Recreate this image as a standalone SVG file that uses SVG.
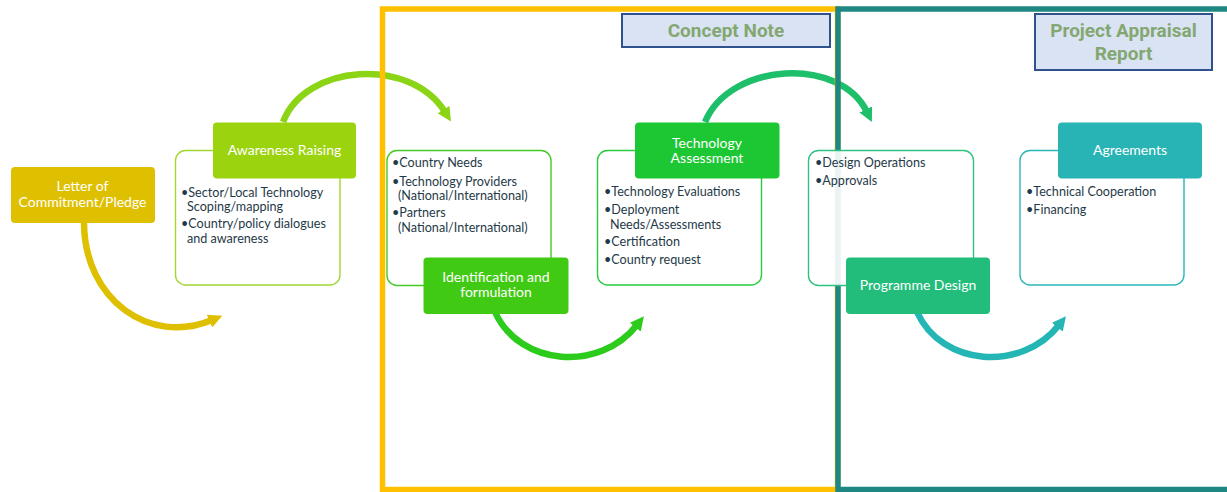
<svg xmlns="http://www.w3.org/2000/svg" width="1227" height="492" viewBox="0 0 1227 492">
<defs>
<style>
.hd{font-family:Lato,"Liberation Sans",sans-serif;font-size:14px;fill:#ffffff;text-anchor:middle}
.bl{font-family:Lato,"Liberation Sans",sans-serif;font-size:12.6px;fill:#1F3A48}
.lbl{font-family:Roboto,"Liberation Sans",sans-serif;font-weight:bold;font-size:19px;fill:#84A771;text-anchor:middle}
.lblbox{fill:#DAE3F3;stroke:#2F528F;stroke-width:2}
.outer{fill:#ffffff;fill-opacity:0.9;stroke-width:1.4}
.arr{fill:none;stroke-width:6.5}
.frame{fill:none;stroke-width:5.5}
</style>
<marker id="mY" viewBox="0 0 10 10" refX="2" refY="5" markerUnits="userSpaceOnUse" markerWidth="14" markerHeight="14" orient="auto"><path d="M0,0 L10,5 L0,10 z" fill="#DEC000"/></marker>
<marker id="mL" viewBox="0 0 10 10" refX="2" refY="5" markerUnits="userSpaceOnUse" markerWidth="14" markerHeight="14" orient="auto"><path d="M0,0 L10,5 L0,10 z" fill="#8CD416"/></marker>
<marker id="mG" viewBox="0 0 10 10" refX="2" refY="5" markerUnits="userSpaceOnUse" markerWidth="14" markerHeight="14" orient="auto"><path d="M0,0 L10,5 L0,10 z" fill="#2DCB1B"/></marker>
<marker id="mE" viewBox="0 0 10 10" refX="2" refY="5" markerUnits="userSpaceOnUse" markerWidth="14" markerHeight="14" orient="auto"><path d="M0,0 L10,5 L0,10 z" fill="#1DBF6A"/></marker>
<marker id="mT" viewBox="0 0 10 10" refX="2" refY="5" markerUnits="userSpaceOnUse" markerWidth="14" markerHeight="14" orient="auto"><path d="M0,0 L10,5 L0,10 z" fill="#24B6B4"/></marker>
</defs>
<rect width="1227" height="492" fill="#ffffff"/>

<g id="connectors">
<path class="arr" stroke="#DEC000" marker-end="url(#mY)" d="M84,222 C84,300 150,346 212,320"/>
<path class="arr" stroke="#8CD416" marker-end="url(#mL)" d="M283,122 C305,64 410,56 445,112"/>
<path class="arr" stroke="#2DCB1B" marker-end="url(#mG)" d="M495,312 C520,367 600,372 637,325"/>
<path class="arr" stroke="#1DBF6A" marker-end="url(#mE)" d="M705,122 C730,62 840,56 867,112"/>
<path class="arr" stroke="#24B6B4" marker-end="url(#mT)" d="M917,312 C942,367 1022,372 1059,325"/>
</g>

<g id="frames">
<rect class="frame" stroke="#FFC000" x="382.5" y="9" width="455" height="480.5"/>
<rect class="frame" stroke="#1E8782" x="838" y="9" width="400" height="480.5"/>
</g>

<g id="concept-note">
<rect class="lblbox" x="622" y="14" width="208" height="33"/>
<text class="lbl" x="726" y="37">Concept Note</text>
</g>
<g id="project-appraisal-report">
<rect class="lblbox" x="1035" y="14" width="177" height="56"/>
<text class="lbl" x="1123.5" y="37">Project Appraisal</text>
<text class="lbl" x="1123.5" y="60">Report</text>
</g>

<g id="letter">
<rect x="11" y="167" width="144" height="56" rx="4" fill="#DEC000"/>
<text class="hd" x="82.5" y="190.5">Letter of</text>
<text class="hd" x="82.5" y="206.5">Commitment/Pledge</text>
</g>

<g id="awareness">
<rect class="outer" stroke="#A2D634" x="175.5" y="150.5" width="164.5" height="134.5" rx="10"/>
<rect x="213" y="122.5" width="143" height="56" rx="4" fill="#9CD30F"/>
<text class="hd" x="284.5" y="154.5">Awareness Raising</text>
<text class="bl" x="181" y="196.5">•Sector/Local Technology</text>
<text class="bl" x="187" y="211">Scoping/mapping</text>
<text class="bl" x="181" y="228">•Country/policy dialogues</text>
<text class="bl" x="187" y="243">and awareness</text>
</g>

<g id="identification">
<rect class="outer" stroke="#45C925" x="387" y="150.5" width="164" height="135" rx="10"/>
<rect x="423.5" y="257.5" width="145" height="56.5" rx="4" fill="#41CA13"/>
<text class="hd" x="496" y="281.5">Identification and</text>
<text class="hd" x="496" y="297">formulation</text>
<text class="bl" x="392" y="166.5">•Country Needs</text>
<text class="bl" x="392" y="185.5">•Technology Providers</text>
<text class="bl" x="398" y="200">(National/International)</text>
<text class="bl" x="392" y="216.5">•Partners</text>
<text class="bl" x="398" y="232">(National/International)</text>
</g>

<g id="technology-assessment">
<rect class="outer" stroke="#2ACB3E" x="597.5" y="150.5" width="164" height="134.5" rx="10"/>
<rect x="635" y="122.5" width="144.5" height="56" rx="4" fill="#1DC733"/>
<text class="hd" x="707" y="148">Technology</text>
<text class="hd" x="707" y="163">Assessment</text>
<text class="bl" x="604" y="195.5">•Technology Evaluations</text>
<text class="bl" x="604" y="214">•Deployment</text>
<text class="bl" x="610" y="228.5">Needs/Assessments</text>
<text class="bl" x="604" y="245.5">•Certification</text>
<text class="bl" x="604" y="264">•Country request</text>
</g>

<g id="programme-design">
<rect class="outer" stroke="#2FC181" x="808.5" y="150.5" width="165" height="135" rx="10"/>
<rect x="846" y="257.5" width="144" height="56.5" rx="4" fill="#22BD7B"/>
<text class="hd" x="918" y="290">Programme Design</text>
<text class="bl" x="815" y="166.5">•Design Operations</text>
<text class="bl" x="815" y="184.5">•Approvals</text>
</g>

<g id="agreements">
<rect class="outer" stroke="#2BB6B6" x="1020" y="150.5" width="164" height="134.5" rx="10"/>
<rect x="1058" y="122.5" width="144" height="56" rx="4" fill="#28B4B5"/>
<text class="hd" x="1130" y="154.5">Agreements</text>
<text class="bl" x="1026" y="195.5">•Technical Cooperation</text>
<text class="bl" x="1026" y="214">•Financing</text>
</g>
</svg>
